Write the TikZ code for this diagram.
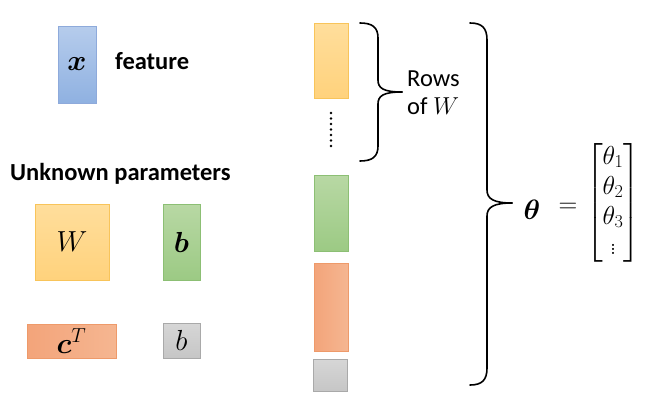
\RequirePackage{fix-cm}
\documentclass[tikz,border=0pt]{standalone}
\usepackage{amsmath,bm}
\usepackage{fontspec}
\setsansfont{Carlito}
\definecolor{bluetop}{HTML}{B6CCEC}
\definecolor{bluebot}{HTML}{8FB1E1}
\definecolor{blueln}{HTML}{8EAADB}
\definecolor{orgtop}{HTML}{FFDE9C}
\definecolor{orgbot}{HTML}{FFD27C}
\definecolor{orgln}{HTML}{F8C45A}
\definecolor{grntop}{HTML}{B8D8A4}
\definecolor{grnbot}{HTML}{9CCA84}
\definecolor{grnln}{HTML}{8CBF74}
\definecolor{saltop}{HTML}{F5B691}
\definecolor{salbot}{HTML}{F3A47A}
\definecolor{salln}{HTML}{EE9A6A}
\definecolor{grytop}{HTML}{D6D6D6}
\definecolor{grybot}{HTML}{C6C6C6}
\definecolor{gryln}{HTML}{A9A9A9}
\tikzset{
  box/.style={draw, line width=0.8pt, inner sep=0pt, font=\fontsize{29}{32}\selectfont},
  bluebox/.style={box, draw=blueln, top color=bluetop, bottom color=bluebot},
  orgbox/.style={box, draw=orgln, top color=orgtop, bottom color=orgbot},
  grnbox/.style={box, draw=grnln, top color=grntop, bottom color=grnbot},
  salbox/.style={box, draw=salln, left color=salbot, right color=saltop},
  grybox/.style={box, draw=gryln, top color=grytop, bottom color=grybot},
  lbl/.style={font=\sffamily\bfseries\fontsize{24.5}{28}\selectfont, inner sep=0pt},
  brace/.style={line width=1.6pt, line cap=round, line join=round},
  mathtxt/.style={font=\fontsize{26}{30}\selectfont, inner sep=0pt}
}
\begin{document}
\begin{tikzpicture}[x=1pt,y=-1pt]
\useasboundingbox (0,0) rectangle (650,407);
% left part
\node[bluebox, minimum width=38pt, minimum height=77pt] (xbox) at (77,64.5) {$\bm{x}$};
\node[lbl, anchor=west] (feat) at (115,61) {feature};
\node[lbl, anchor=west] (unk) at (10,174) {Unknown parameters};
\node[orgbox, minimum width=74pt, minimum height=76pt] (Wbox) at (72,242) {$W$};
\node[grnbox, minimum width=37pt, minimum height=76pt] (bvec) at (181.5,242) {$\bm{b}$};
\node[salbox, minimum width=89pt, minimum height=34pt] (cbox) at (71.5,341) {$\bm{c}^T$};
\node[grybox, minimum width=37pt, minimum height=35pt] (bsc) at (181.5,340.5) {$b$};
% column
\node[orgbox, minimum width=34pt, minimum height=75pt] (c1) at (331,60.5) {};
\coordinate (dtop) at (331,113);
\coordinate (dbot) at (331,146);
\draw[line width=2.6pt, line cap=round, dash pattern=on 0pt off 5.5pt] (dtop) -- (dbot);
\node[grnbox, minimum width=34pt, minimum height=76pt] (c2) at (331,213) {};
\node[salbox, minimum width=34pt, minimum height=88pt] (c3) at (331,307) {};
\node[grybox, minimum width=34pt, minimum height=32pt] (c4) at (330.5,375) {};
% small brace
\draw[brace] (360,23) .. controls (372,23) and (378,27) .. (378,38) -- (378,80)
  .. controls (378,88) and (383,92) .. (402,92);
\draw[brace] (360,161) .. controls (372,161) and (378,157) .. (378,146) -- (378,104)
  .. controls (378,96) and (383,92) .. (402,92);
\node[font=\sffamily\fontsize{24.5}{28}\selectfont, align=left, anchor=west, inner sep=0pt] (rows) at (407,93) {Rows\\of $W$};
% big brace
\draw[brace] (470,23) .. controls (482,23) and (487,28) .. (487,40) -- (487,190)
  .. controls (487,199) and (494,203) .. (512,203);
\draw[brace] (470,385) .. controls (482,385) and (487,380) .. (487,368) -- (487,216)
  .. controls (487,207) and (494,203) .. (512,203);
% theta
\node[mathtxt, font=\fontsize{28}{32}\selectfont] (th) at (532,210) {$\bm{\theta}$};
\node[mathtxt] (eq) at (568,208) {$=$};
\node[mathtxt] (mat) at (613,203) {$\begin{bmatrix}\theta_1\\ \theta_2\\ \theta_3\\ \vdots\end{bmatrix}$};
\end{tikzpicture}
\end{document}
